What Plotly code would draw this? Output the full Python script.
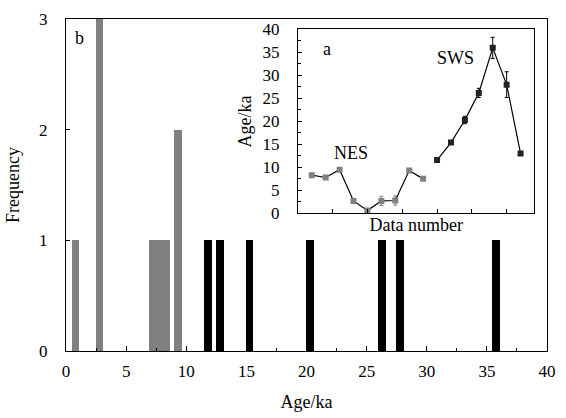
import plotly.graph_objects as go

# Histogram (panel b): age bins and frequencies
nes_age_bins = [0.77, 2.77, 7.24, 7.77, 8.30, 9.30]
nes_freq = [1, 3, 1, 1, 1, 2]
sws_age_bins = [11.80, 12.82, 15.27, 20.28, 26.27, 27.76, 35.77]
sws_freq = [1, 1, 1, 1, 1, 1, 1]

# Inset (panel a): ages by data number, with errors
nes_num = [1, 2, 3, 4, 5, 6, 7, 8, 9]
nes_age = [8.3, 7.8, 9.5, 2.7, 0.6, 2.7, 2.8, 9.3, 7.5]
nes_err = [0.3, 0.3, 0.3, 0.4, 0.3, 1.0, 1.0, 0.3, 0.3]
sws_num = [10, 11, 12, 13, 14, 15, 16]
sws_age = [11.6, 15.4, 20.3, 26.2, 36.0, 28.0, 13.0]
sws_err = [0.3, 0.3, 0.8, 1.0, 2.3, 2.8, 0.3]

FONT = "Liberation Serif"
GRAY = "#808080"

fig = go.Figure()
fig.add_trace(go.Bar(x=nes_age_bins, y=nes_freq, width=0.62,
                     marker=dict(color=GRAY, line=dict(width=0)),
                     xaxis="x", yaxis="y", showlegend=False))
fig.add_trace(go.Bar(x=sws_age_bins, y=sws_freq, width=0.62,
                     marker=dict(color="black", line=dict(width=0)),
                     xaxis="x", yaxis="y", showlegend=False))

fig.add_trace(go.Scatter(x=nes_num, y=nes_age, mode="lines+markers",
                         line=dict(color="black", width=1.2),
                         marker=dict(symbol="square", size=6, color=GRAY),
                         error_y=dict(type="data", array=nes_err, color=GRAY,
                                      thickness=1, width=2),
                         xaxis="x2", yaxis="y2", showlegend=False))
fig.add_trace(go.Scatter(x=sws_num, y=sws_age, mode="lines+markers",
                         line=dict(color="black", width=1.2),
                         marker=dict(symbol="square", size=6, color="#222222"),
                         error_y=dict(type="data", array=sws_err, color="black",
                                      thickness=1, width=2),
                         xaxis="x2", yaxis="y2", showlegend=False))

axis_common = dict(showline=True, linecolor="black", linewidth=1, mirror=True,
                   ticks="inside", tickcolor="black", showgrid=False, zeroline=False,
                   tickfont=dict(family=FONT, size=17, color="black"))

fig.update_layout(
    width=566, height=418,
    margin=dict(l=66, r=10, t=13, b=65),
    paper_bgcolor="white", plot_bgcolor="white",
    bargap=0, barmode="overlay",
    font=dict(family=FONT, size=17, color="black"),
    xaxis=dict(**axis_common, range=[0, 40], dtick=5, tick0=0, ticklen=5,
               ticklabelstandoff=5,
               minor=dict(dtick=2.5, ticks="inside", ticklen=3, tickcolor="black"),
               title=dict(text="Age/ka", font=dict(family=FONT, size=18), standoff=14)),
    yaxis=dict(**axis_common, range=[0, 3], dtick=1, tick0=0, ticklen=4,
               ticklabelstandoff=14,
               title=dict(text="Frequency", font=dict(family=FONT, size=18), standoff=14)),
    xaxis2=dict(**axis_common, domain=[0.482, 0.974], anchor="y2", range=[0, 17],
                dtick=2.5, tick0=0, ticklen=4, showticklabels=False,
                title=dict(text="Data number", font=dict(family=FONT, size=18), standoff=5)),
    yaxis2=dict(**axis_common, domain=[0.4146, 0.9685], anchor="x2", range=[0, 40],
                dtick=5, tick0=0, ticklen=4, ticklabelstandoff=14,
                minor=dict(dtick=2.5, ticks="inside", ticklen=3, tickcolor="black"),
                title=dict(text="Age/ka", font=dict(family=FONT, size=18), standoff=6)),
    annotations=[
        dict(text="b", x=1.1, y=2.83, xref="x", yref="y", showarrow=False,
             font=dict(family=FONT, size=18), xanchor="center", yanchor="middle"),
        dict(text="a", x=2.1, y=35.8, xref="x2", yref="y2", showarrow=False,
             font=dict(family=FONT, size=18), xanchor="center", yanchor="middle"),
        dict(text="NES", x=3.8, y=13.2, xref="x2", yref="y2", showarrow=False,
             font=dict(family=FONT, size=18), xanchor="center", yanchor="middle"),
        dict(text="SWS", x=11.3, y=33.8, xref="x2", yref="y2", showarrow=False,
             font=dict(family=FONT, size=18), xanchor="center", yanchor="middle"),
    ],
)

fig.write_html("out.html")
